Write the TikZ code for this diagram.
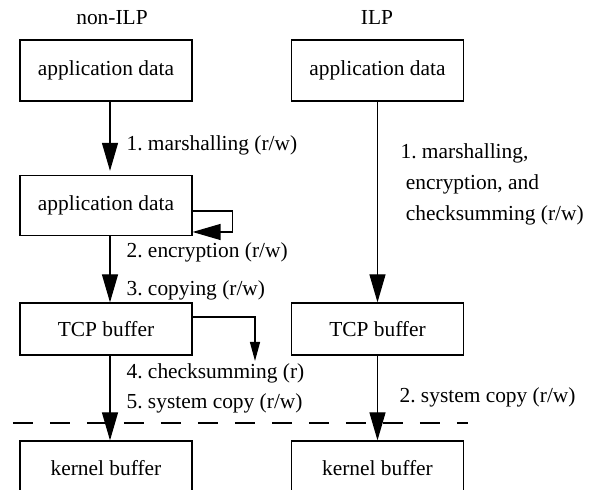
\documentclass[tikz,border=0pt]{standalone}
\usepackage{fontspec}
\setmainfont{Liberation Serif}
\usetikzlibrary{arrows.meta}
\frenchspacing

\begin{document}
\begin{tikzpicture}[x=0.5pt,y=-0.5pt,line width=0.6pt,
  font=\fontsize{10.7}{15.5}\selectfont,
  box/.style={draw, minimum width=86pt, inner sep=0pt},
  lbl/.style={anchor=west, inner sep=0pt},
  bigtip/.style={-{Triangle[length=14pt,width=8pt]}},
  smalltip/.style={-{Triangle[length=9.5pt,width=5pt]}}]
\useasboundingbox (0,0) rectangle (591,490);
\clip (0,0) rectangle (591,490);
% column titles
\node (tnon) at (112,18) {non-ILP};
\node (tilp) at (377,18) {ILP};
% non-ILP column
\node[box, minimum height=30.5pt] (appL) at (106,70.5) {application data};
\node[box, minimum height=30pt] (encL) at (106,205.5) {application data};
\node[box, minimum height=26pt] (tcpL) at (106,329) {TCP buffer};
\node[box, minimum height=27pt] (kerL) at (106,468) {kernel buffer};
% ILP column
\node[box, minimum height=30.5pt] (appR) at (377.5,70.5) {application data};
\node[box, minimum height=26pt] (tcpR) at (377.5,329) {TCP buffer};
\node[box, minimum height=27pt] (kerR) at (377.5,468) {kernel buffer};
% user/kernel boundary
\draw[dash pattern=on 10pt off 8.5pt] (13,423) -- (468,423);
% non-ILP steps
\draw[bigtip, shorten >=2pt] ([xshift=2pt]appL.south) -- ([xshift=2pt]encL.north);
\draw[bigtip] ([yshift=-2.75pt]encL.east) -- ++(20pt,0) |- ([yshift=-13.25pt]encL.east);
\draw[bigtip] ([xshift=2pt]encL.south) -- ([xshift=2pt]tcpL.north);
\coordinate (chk) at (255,361);
\draw[smalltip] ([yshift=6pt]tcpL.east) -| (chk);
\draw[bigtip] ([xshift=2pt]tcpL.south) -- ([xshift=2pt]kerL.north);
\node[lbl] (m1) at (126,145) {1. marshalling (r/w)};
\node[lbl] (m2) at (126,252) {2. encryption (r/w)};
\node[lbl] (m3) at (126,290) {3. copying (r/w)};
\node[lbl] (m4) at (126,373) {4. checksumming (r)};
\node[lbl] (m5) at (126,403) {5. system copy (r/w)};
% ILP steps
\draw[bigtip] (appR) -- (tcpR);
\draw[bigtip] (tcpR) -- (kerR);
\node[lbl, align=left] (i1) at (400,184) {1. marshalling,\\\hspace*{.25em}encryption, and\\\hspace*{.25em}checksumming (r/w)};
\node[lbl] (i2) at (399,397) {2. system copy (r/w)};
\end{tikzpicture}
\end{document}
